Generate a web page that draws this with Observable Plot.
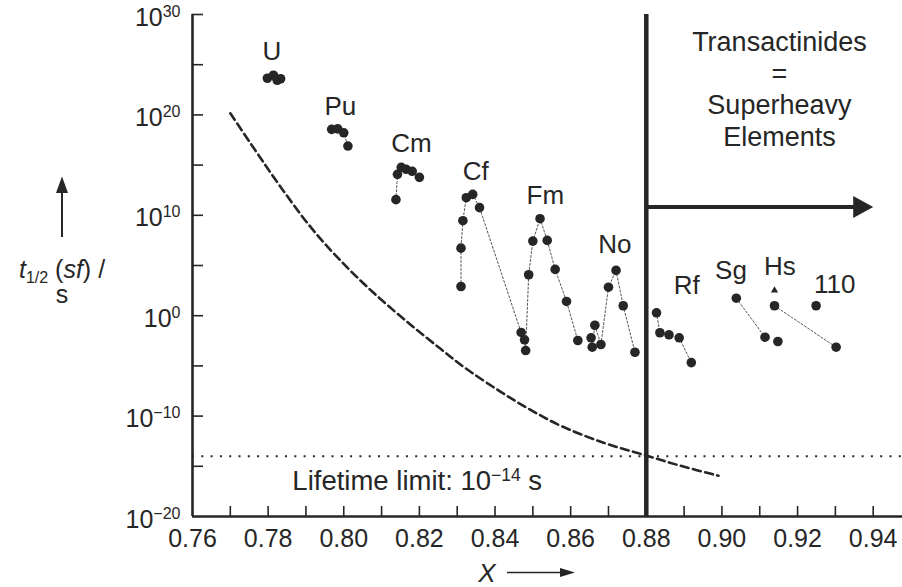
<!DOCTYPE html>
<html><head><meta charset="utf-8">
<script src="https://cdn.jsdelivr.net/npm/d3@7"></script>
<script src="https://cdn.jsdelivr.net/npm/@observablehq/plot@0.6"></script>
<style>
html,body{margin:0;padding:0;background:#fff;}
#chart{width:902px;height:587px;overflow:hidden;}
</style></head><body><div id="chart"></div>
<script>
const INK = "#262626";
const FONT = "'Liberation Sans', Arial, Helvetica, sans-serif";

// Spontaneous-fission half-lives: fissility X and log10(t1/2 / s)
const pointElement = ["U","U","U","U","Pu","Pu","Pu","Pu","Cm","Cm","Cm","Cm","Cm","Cm",
  "Cf","Cf","Cf","Cf","Cf","Cf","Cf","Fm","Fm","Fm","Fm","Fm","Fm","Fm","Fm","Fm",
  "No","No","No","No","No","No","No","No","Rf","Rf","Rf","Rf","Rf","Sg","Sg","Sg","Hs","Hs","110"];
const pointChain = ["U","U","U","U","Pu","Pu","Pu","Pu","Cm","Cm","Cm","Cm","Cm","Cm",
  "Cf","Cf","Cf","Cf","Cf","Cf","Cf","Fm","Fm","Fm","Fm","Fm","Fm","Fm","Fm","Fm",
  "No","No","No","No","No","No","No","No","Rf","Rf","Rf","Rf","Rf","Sg","Sg","Sg-b","Hs","Hs","110"];
const pointX = [0.7798,0.7814,0.7824,0.7833, 0.7968,0.7984,0.8000,0.8011,
  0.8138,0.8142,0.8152,0.8165,0.8181,0.8200,
  0.8310,0.8310,0.8315,0.8324,0.8341,0.8359,0.8469,
  0.8478,0.8481,0.8489,0.8500,0.8519,0.8538,0.8559,0.8589,0.8619,
  0.8654,0.8657,0.8664,0.8680,0.8700,0.8720,0.8739,0.8770,
  0.8827,0.8836,0.8860,0.8887,0.8919, 0.9038,0.9114,0.9148, 0.9139,0.9302, 0.9249];
const pointLogT = [23.65,23.95,23.45,23.60, 18.56,18.61,18.22,16.90,
  11.56,14.08,14.78,14.58,14.38,13.78,
  2.91,6.73,9.46,11.75,12.08,10.76,-1.67,
  -2.40,-3.47,4.08,7.43,9.66,7.50,4.61,1.42,-2.47,
  -2.20,-3.14,-0.95,-2.87,2.84,4.51,0.99,-3.64,
  0.29,-1.70,-1.90,-2.20,-4.67, 1.74,-2.14,-2.57, 0.99,-3.14, 0.99];

// Hs: extra triangle marker
const triangleX = [0.9139];
const triangleLogT = [2.51];

// element labels
const labelText = ["U","Pu","Cm","Cf","Fm","No","Rf","Sg","Hs","110"];
const labelX = [0.7810,0.7991,0.8179,0.8349,0.8533,0.8717,0.8907,0.9024,0.9153,0.9298];
const labelLogT = [26.27,20.79,17.17,14.31,11.98,7.08,3.01,4.51,4.84,3.06];

// dashed theoretical curve
const curveX = [0.7700,0.7766,0.7832,0.7911,0.7991,0.8078,0.8176,0.8255,0.8316,0.8414,0.8493,0.8573,0.8687,0.8792,0.8890,0.8991];
const curveLogT = [20.16,16.47,12.88,8.89,5.50,2.31,-0.88,-3.27,-5.07,-7.56,-9.36,-10.95,-12.65,-13.84,-14.94,-15.94];

// reference values
const limitLogT = -14;
const boundaryX = 0.88;
const arrowEndX = 0.94;
const arrowLogT = 10.82;
const regionText = "Transactinides\n=\nSuperheavy\nElements";
const regionX = 0.9152, regionLogT = 28.6;
const lifetimeText = "Lifetime limit: 10^\u221214 s";
const lifetimeX = 0.7864, lifetimeLogT = -16.46;

// axes
const xTickValues = [0.77,0.78,0.79,0.80,0.81,0.82,0.83,0.84,0.85,0.86,0.87,0.88,0.89,0.90,0.91,0.92,0.93,0.94];
const xLabelValues = [0.76,0.78,0.80,0.82,0.84,0.86,0.88,0.90,0.92,0.94];
const yTickExponents = [-15,-10,-5,0,5,10,15,20,25,30];
const yLabelExponents = [-20,-10,0,10,20,30];

const points = pointX.map((x, i) => ({element: pointElement[i], chain: pointChain[i], x, t: 10 ** pointLogT[i]}));
const chained = points.slice().sort((a, b) => d3.ascending(a.chain, b.chain));
const curve = curveX.map((x, i) => ({x, t: 10 ** curveLogT[i]}));
const labels = labelText.map((text, i) => ({text, x: labelX[i], t: 10 ** labelLogT[i]}));
const triangles = triangleX.map((x, i) => ({x, t: 10 ** triangleLogT[i]}));

const head = (ratio) => ({
  draw(context, size) {
    const r = Math.sqrt(size / Math.PI);
    context.moveTo(r, 0);
    context.lineTo(-r, -r * ratio);
    context.lineTo(-r, r * ratio);
    context.closePath();
  }
});

function axisTitles(index, scales, values, dimensions) {
  const {marginLeft, marginTop, marginBottom, height, width, marginRight} = dimensions;
  const midY = (marginTop + height - marginBottom) / 2;
  const midX = (marginLeft + width - marginRight) / 2;
  const g = d3.create("svg:g").attr("fill", INK).attr("font-family", FONT).attr("font-size", 25);
  const cx = marginLeft - 130;
  const t1 = g.append("text").attr("x", cx).attr("y", midY + 13).attr("text-anchor", "middle");
  t1.append("tspan").attr("font-style", "italic").text("t");
  t1.append("tspan").attr("font-size", 16).attr("dy", 5).text("1/2");
  t1.append("tspan").attr("dy", -5).text(" (");
  t1.append("tspan").attr("font-style", "italic").text("sf");
  t1.append("tspan").text(") /");
  g.append("text").attr("x", cx).attr("y", midY + 38).attr("text-anchor", "middle").text("s");
  g.append("line").attr("x1", cx).attr("x2", cx).attr("y1", midY - 28).attr("y2", midY - 74)
    .attr("stroke", INK).attr("stroke-width", 2);
  g.append("path").attr("d", `M${cx},${midY - 88.5}L${cx - 6},${midY - 72}L${cx + 6},${midY - 72}Z`);
  // x title
  const bx = midX - 60, by = height - 5;
  g.append("text").attr("x", bx).attr("y", by).attr("text-anchor", "middle")
    .attr("font-size", 26).attr("font-style", "italic").text("X");
  g.append("line").attr("x1", bx + 20).attr("x2", bx + 76).attr("y1", by - 9.5).attr("y2", by - 9.5)
    .attr("stroke", INK).attr("stroke-width", 1.6);
  g.append("path").attr("d", `M${bx + 88},${by - 9.5}L${bx + 73},${by - 14}L${bx + 73},${by - 5}Z`);
  return g.node();
}

const yFormat = d => { const e = Math.round(Math.log10(d)); return "10^" + (e < 0 ? "\u2212" + (-e) : String(e)); };

const plot = Plot.plot({
  width: 902, height: 587,
  marginLeft: 192, marginRight: 0, marginTop: 14, marginBottom: 71,
  style: {fontFamily: FONT, fontSize: "25px", color: INK, background: "white", overflow: "visible"},
  x: {domain: [0.76, 0.94775]},
  y: {type: "log", domain: [1e-20, 1e30]},
  marks: [
    Plot.ruleY([10 ** limitLogT], {stroke: INK, strokeWidth: 2, strokeDasharray: "2,7.3"}),
    Plot.line(curve, {x: "x", y: "t", stroke: INK, strokeWidth: 2.6, strokeDasharray: "8,4.5", curve: "catmull-rom"}),
    Plot.line(chained, {x: "x", y: "t", z: "chain", stroke: "#555", strokeWidth: 1, strokeDasharray: "2,2"}),
    Plot.dot(points, {x: "x", y: "t", r: 4.8, fill: INK}),
    Plot.dot(triangles, {x: "x", y: "t", symbol: "triangle", r: 2.7, fill: INK}),
    Plot.text(labels, {x: "x", y: "t", text: "text", fontSize: 26, fill: INK}),
    Plot.ruleX([boundaryX], {stroke: INK, strokeWidth: 4.5}),
    Plot.ruleY([10 ** arrowLogT], {x1: boundaryX, x2: arrowEndX, stroke: INK, strokeWidth: 4, insetRight: 14}),
    Plot.dot([arrowEndX], {x: d => d, y: () => 10 ** arrowLogT, symbol: head(1.1), r: 10, dx: -10, fill: INK}),
    Plot.text([regionText], {x: () => regionX, y: () => 10 ** regionLogT, text: d => d, lineAnchor: "top", lineHeight: 1.174, fontSize: 27, fill: INK}),
    Plot.text([lifetimeText], {x: () => lifetimeX, y: () => 10 ** lifetimeLogT, text: d => d, textAnchor: "start", fontSize: 27.5, fill: INK}),
    Plot.ruleX([0.76], {stroke: INK, strokeWidth: 2.6}),
    Plot.ruleY([1e-20], {stroke: INK, strokeWidth: 2.6}),
    Plot.ruleX(xTickValues, {x: d => d, y1: 1e-20, y2: 1e-20, insetTop: -10, stroke: INK, strokeWidth: 1.6}),
    Plot.ruleY(yTickExponents.map(e => 10 ** e), {y: d => d, x1: 0.76, x2: 0.76, insetRight: -11, stroke: INK, strokeWidth: 1.6}),
    Plot.axisX(xLabelValues, {tickSize: 0, tickPadding: 13, tickFormat: d3.format(".2f"), fontSize: 25, label: null, fill: INK}),
    Plot.axisY(yLabelExponents.map(e => 10 ** e), {tickSize: 0, tickPadding: 12, tickFormat: yFormat, fontSize: 25, label: null, fill: INK, dy: 3}),
    axisTitles
  ]
});

function superscriptify(el, supSize, raise) {
  const s = el.textContent;
  const m = s.match(/^(.*?)\^(\S+)(.*)$/);
  if (!m) return;
  el.textContent = "";
  const ns = "http://www.w3.org/2000/svg";
  const a = document.createElementNS(ns, "tspan"); a.textContent = m[1]; el.appendChild(a);
  const b = document.createElementNS(ns, "tspan"); b.textContent = m[2];
  b.setAttribute("font-size", supSize); b.setAttribute("dy", -raise); el.appendChild(b);
  if (m[3]) { const c = document.createElementNS(ns, "tspan"); c.textContent = m[3]; c.setAttribute("dy", raise); el.appendChild(c); }
}
d3.select(plot).selectAll("text").each(function() {
  if (!this.textContent.includes("^")) return;
  superscriptify(this, this.textContent.startsWith("Lifetime") ? 17.5 : 16, 9);
});

document.getElementById("chart").appendChild(plot);
</script>
</body></html>
